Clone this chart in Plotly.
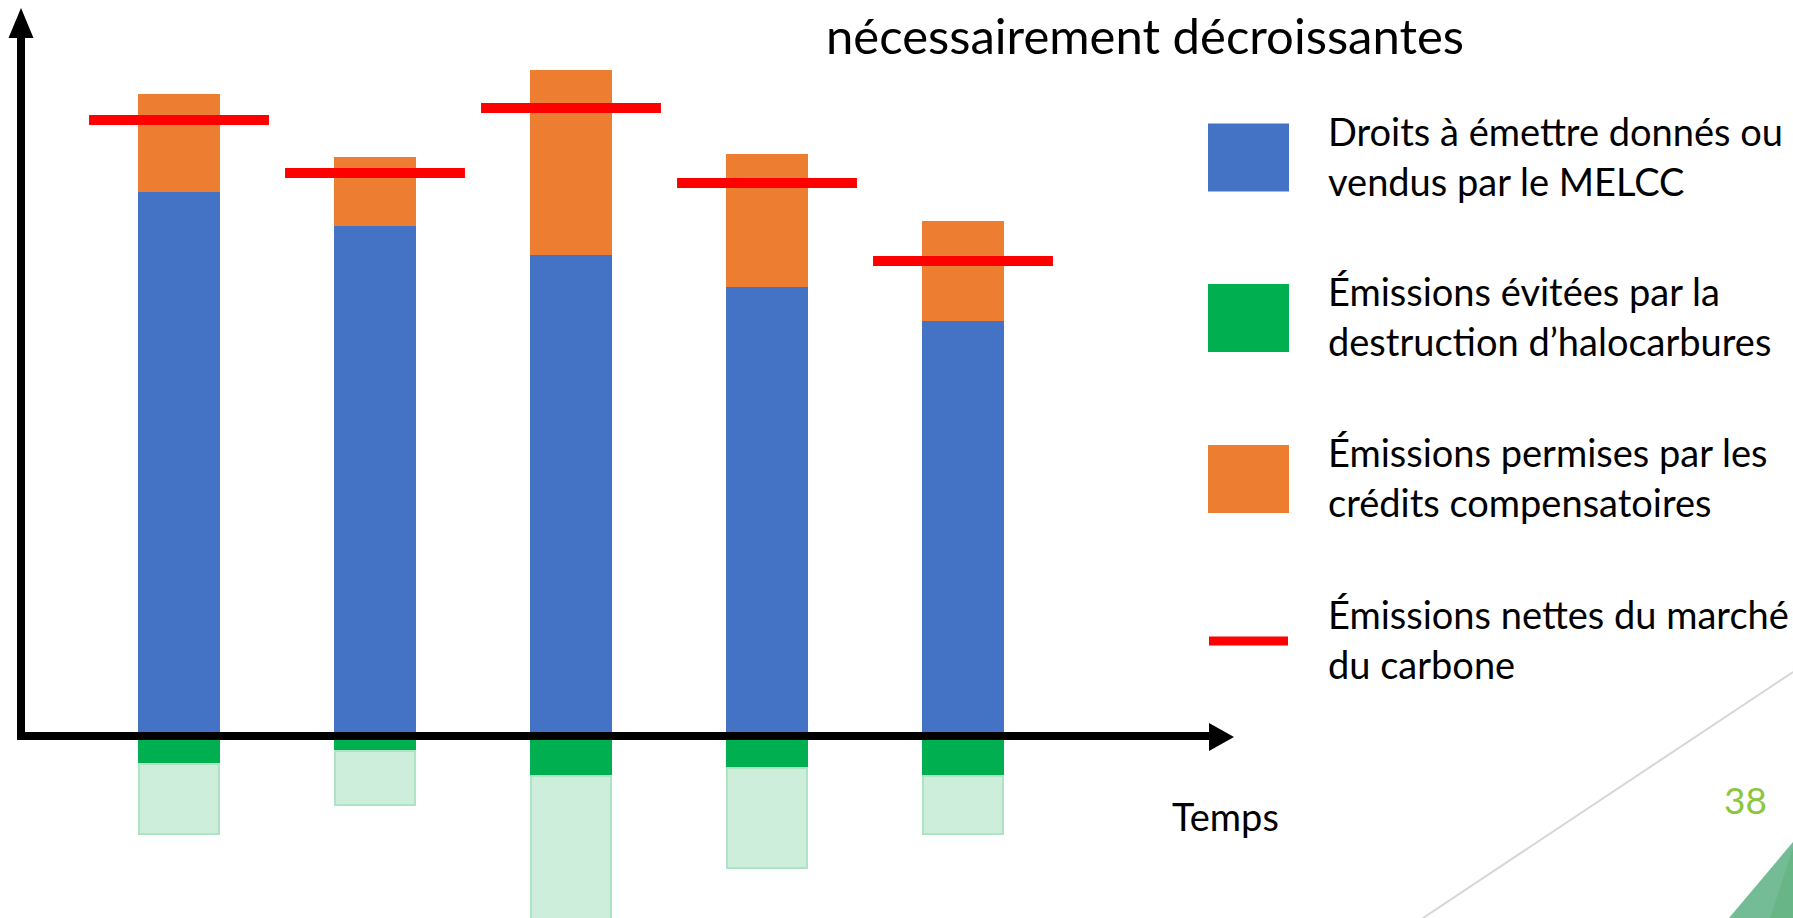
import plotly.graph_objects as go

# Canvas size (pixels)
W, H = 1793, 918

# ---- Data -------------------------------------------------------------
periodes = ["Période 1", "Période 2", "Période 3", "Période 4", "Période 5"]
droits_melcc = [54.4, 51.0, 48.1, 44.9, 41.5]            # blue
credits_compensatoires = [9.8, 6.9, 18.5, 13.3, 10.0]    # orange
halocarbures_detruits = [2.8, 1.5, 4.0, 3.2, 4.0]        # green (below axis)
halocarbures_incertitude = [7.0, 5.4, 15.5, 10.0, 5.8]   # pale green (below green)
emissions_nettes = [61.6, 56.3, 62.8, 55.3, 47.5]        # red markers

legend_items = [
    ("Droits à émettre donnés ou", "vendus par le MELCC", "#4472C4", "box"),
    ("Émissions évitées par la", "destruction d’halocarbures", "#00B050", "box"),
    ("Émissions permises par les", "crédits compensatoires", "#ED7D31", "box"),
    ("Émissions nettes du marché", "du carbone", "#FF0000", "line"),
]

titre = "nécessairement décroissantes"
axe_x_label = "Temps"
numero_page = "38"

FONT = "Lato"

# ---- Figure -----------------------------------------------------------
pos = list(range(len(periodes)))
BAR_W = 0.418
SEG_HALF = 0.459

fig = go.Figure()
fig.add_trace(go.Bar(x=pos, y=droits_melcc, width=BAR_W, name=legend_items[0][0],
                     marker=dict(color="#4472C4", line=dict(width=0))))
fig.add_trace(go.Bar(x=pos, y=credits_compensatoires, width=BAR_W, name=legend_items[2][0],
                     marker=dict(color="#ED7D31", line=dict(width=0))))
fig.add_trace(go.Bar(x=pos, y=[-v for v in halocarbures_detruits], width=BAR_W,
                     name=legend_items[1][0], marker=dict(color="#00B050", line=dict(width=0))))
fig.add_trace(go.Bar(x=pos, y=[-v for v in halocarbures_incertitude], width=BAR_W - 0.01,
                     name="incertitude",
                     marker=dict(color="#CDEEDB", line=dict(color="#AEE3C4", width=2))))

# Net emissions: one horizontal segment per period
seg_x, seg_y = [], []
for p, v in zip(pos, emissions_nettes):
    seg_x += [p - SEG_HALF, p + SEG_HALF, None]
    seg_y += [v, v, None]
fig.add_trace(go.Scatter(x=seg_x, y=seg_y, mode="lines", name=legend_items[3][0],
                         line=dict(color="#FF0000", width=10)))


def fx(x):
    return x / W


def fy(y):
    return 1 - y / H


shapes = []
black = "#000000"
# Vertical axis with arrowhead
shapes.append(dict(type="line", xref="paper", yref="paper", x0=fx(21), x1=fx(21),
                   y0=fy(740), y1=fy(34), line=dict(color=black, width=8)))
shapes.append(dict(type="path", xref="paper", yref="paper",
                   path=f"M {fx(21)},{fy(8)} L {fx(33.5)},{fy(38)} L {fx(8.5)},{fy(38)} Z",
                   fillcolor=black, line=dict(width=0)))
# Horizontal axis with arrowhead
shapes.append(dict(type="line", xref="paper", yref="paper", x0=fx(22), x1=fx(1212),
                   y0=fy(736), y1=fy(736), line=dict(color=black, width=8)))
shapes.append(dict(type="path", xref="paper", yref="paper",
                   path=f"M {fx(1234)},{fy(737)} L {fx(1209)},{fy(723)} L {fx(1209)},{fy(751)} Z",
                   fillcolor=black, line=dict(width=0)))

# Decorative slide elements (bottom right)
shapes.append(dict(type="line", xref="paper", yref="paper", x0=fx(1423), y0=fy(918),
                   x1=fx(1793), y1=fy(672), line=dict(color="#D6D6D6", width=2)))
shapes.append(dict(type="path", xref="paper", yref="paper",
                   path=f"M {fx(1729)},{fy(918)} L {fx(1793)},{fy(842)} L {fx(1793)},{fy(918)} Z",
                   fillcolor="#74BC96", line=dict(width=0)))
shapes.append(dict(type="path", xref="paper", yref="paper",
                   path=f"M {fx(1770)},{fy(918)} L {fx(1793)},{fy(848)} L {fx(1793)},{fy(918)} Z",
                   fillcolor="#68B585", line=dict(width=0)))

annotations = []
# Custom legend
LEG_CENTERS = [157.5, 318, 479, 641]
LEG_SIZE = 38
for (l1, l2, col, kind), cy in zip(legend_items, LEG_CENTERS):
    if kind == "box":
        shapes.append(dict(type="rect", xref="paper", yref="paper",
                           x0=fx(1208), x1=fx(1289), y0=fy(cy - 34), y1=fy(cy + 34),
                           fillcolor=col, line=dict(width=0)))
    else:
        shapes.append(dict(type="line", xref="paper", yref="paper",
                           x0=fx(1209), x1=fx(1288), y0=fy(cy), y1=fy(cy),
                           line=dict(color=col, width=9)))
    for txt, base in ((l1, cy - 12), (l2, cy + 38)):
        annotations.append(dict(text=txt, xref="paper", yref="paper", showarrow=False,
                                x=fx(1326), y=fy(base - 0.387 * LEG_SIZE),
                                xanchor="left", yanchor="middle",
                                font=dict(family=FONT, size=LEG_SIZE, color="#000000")))

TITLE_SIZE = 49
annotations.append(dict(text=titre, xref="paper", yref="paper", showarrow=False,
                        x=fx(824), y=fy(54 - 0.387 * TITLE_SIZE), xanchor="left", yanchor="middle",
                        font=dict(family=FONT, size=TITLE_SIZE, color="#000000")))
annotations.append(dict(text=axe_x_label, xref="paper", yref="paper", showarrow=False,
                        x=fx(1170), y=fy(831 - 0.387 * LEG_SIZE), xanchor="left", yanchor="middle",
                        font=dict(family=FONT, size=LEG_SIZE, color="#000000")))
annotations.append(dict(text=numero_page, xref="paper", yref="paper", showarrow=False,
                        x=fx(1722), y=fy(814 - 0.387 * 37), xanchor="left", yanchor="middle",
                        font=dict(family=FONT, size=37, color="#8CC63F")))

# Axis ranges chosen so that 0 sits on the drawn horizontal axis
fig.update_layout(
    width=W, height=H,
    margin=dict(l=0, r=0, t=0, b=0),
    paper_bgcolor="white", plot_bgcolor="white",
    barmode="relative", bargap=0,
    showlegend=False,
    xaxis=dict(range=[-179 / 196, (W - 179) / 196], visible=False, domain=[0, 1]),
    yaxis=dict(range=[-(H - 736) / 10, 736 / 10], visible=False, domain=[0, 1]),
    shapes=shapes,
    annotations=annotations,
)

fig.write_html("out.html", config=dict(displayModeBar=False))
